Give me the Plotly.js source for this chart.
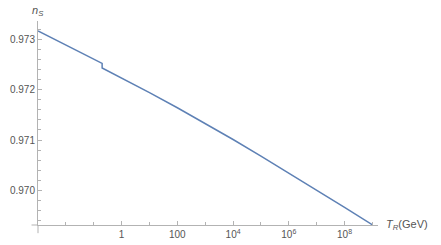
<!DOCTYPE html>
<html>
<head>
<meta charset="utf-8">
<script src="https://cdn.plot.ly/plotly-3.0.1.min.js"></script>
<style>html,body{margin:0;padding:0;background:#fff;}#chart{width:441px;height:245px;}</style>
</head>
<body>
<div id="chart"></div>
<script>
// Reheating temperature T_R (GeV) and spectral index n_S
const temperatures = [0.001, 0.01, 0.1, 0.2, 0.2, 1, 10, 100, 1e3, 1e4, 1e5, 1e6, 1e7, 1e8, 1e9];
const spectralIndex = [0.973171, 0.972891, 0.972610, 0.972525, 0.972435, 0.972239, 0.971944, 0.971642, 0.971332, 0.971010, 0.970680, 0.970344, 0.970002, 0.969658, 0.969312];

const xTickVals = [1, 100, 1e4, 1e6, 1e8];
const xTickText = ["1", "100", "10<sup>4</sup>", "10<sup>6</sup>", "10<sup>8</sup>"];
const xMinorTickVals = [0.01, 0.1, 10, 1e3, 1e5, 1e7, 1e9];
const yTickVals = [0.970, 0.971, 0.972, 0.973];
const yTickText = ["0.970", "0.971", "0.972", "0.973"];

const axisColor = '#b3b3b3';
const textColor = '#555555';

const trace = {
  x: temperatures,
  y: spectralIndex,
  type: 'scatter',
  mode: 'lines',
  line: {color: '#5E81B5', width: 1.5},
  hoverinfo: 'skip'
};

const layout = {
  width: 441,
  height: 245,
  margin: {l: 37.5, r: 63, t: 20.7, b: 20},
  paper_bgcolor: '#ffffff',
  plot_bgcolor: '#ffffff',
  showlegend: false,
  font: {family: 'Liberation Sans, Arial, sans-serif', size: 10, color: textColor},
  xaxis: {
    type: 'log',
    range: [-3, 9.2],
    showgrid: false,
    zeroline: false,
    showline: true,
    linecolor: axisColor,
    linewidth: 1,
    ticks: 'inside',
    ticklen: 4,
    tickcolor: axisColor,
    tickmode: 'array',
    tickvals: xTickVals,
    ticktext: xTickText,
    tickfont: {size: 10, color: textColor},
    minor: {tickmode: 'array', tickvals: xMinorTickVals, ticks: 'inside', ticklen: 3.5, tickcolor: axisColor, showgrid: false}
  },
  yaxis: {
    range: [0.969308, 0.97337],
    showgrid: false,
    zeroline: false,
    showline: true,
    linecolor: axisColor,
    linewidth: 1,
    ticks: 'inside',
    ticklen: 4,
    tickcolor: axisColor,
    tickmode: 'array',
    tickvals: yTickVals,
    ticktext: yTickText,
    tickfont: {size: 10, color: textColor},
    minor: {dtick: 0.0002, ticks: 'inside', ticklen: 2.5, tickcolor: axisColor, showgrid: false}
  },
  shapes: [
    {type: 'line', xref: 'paper', yref: 'paper', x0: -0.019, x1: 0, y0: 0, y1: 0, line: {color: axisColor, width: 1}},
    {type: 'line', xref: 'paper', yref: 'paper', x0: 0, x1: 0, y0: -0.04, y1: 0, line: {color: axisColor, width: 1}}
  ],
  annotations: [
    {xref: 'paper', yref: 'paper', x: 0, y: 1, xanchor: 'center', yanchor: 'bottom', yshift: 1,
     text: '<i>n</i><sub><i>S</i></sub>', showarrow: false, font: {size: 11, color: textColor}},
    {xref: 'paper', yref: 'paper', x: 1, y: 0, xanchor: 'left', yanchor: 'middle', xshift: 6,
     text: '<i>T</i><sub><i>R</i></sub>(GeV)', showarrow: false, font: {size: 11, color: textColor}}
  ]
};

Plotly.newPlot('chart', [trace], layout, {displayModeBar: false, staticPlot: true});
</script>
</body>
</html>
